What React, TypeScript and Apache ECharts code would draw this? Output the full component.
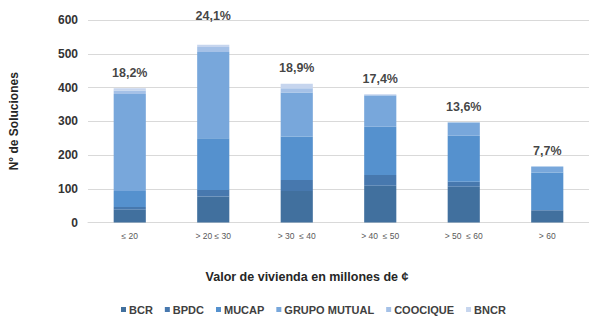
import React, { useEffect, useRef } from "react";
import * as echarts from "echarts";

const categories = ["≤ 20", "> 20 ≤ 30", "> 30  ≤ 40", "> 40  ≤ 50", "> 50  ≤ 60", "> 60"];
const seriesNames = ["BCR", "BPDC", "MUCAP", "GRUPO MUTUAL", "COOCIQUE", "BNCR"];
const bcr = [38, 77, 93, 109, 106, 35];
const bpdc = [8, 19, 33, 32, 15, 2];
const mucap = [47, 154, 129, 143, 136, 111];
const grupoMutual = [288, 255, 130, 92, 39, 18];
const coocique = [10, 15, 13, 2, 1, 0];
const bncr = [7, 7, 13, 2, 0, 0];
const percentLabels = ["18,2%", "24,1%", "18,9%", "17,4%", "13,6%", "7,7%"];
const yTicks = [0, 100, 200, 300, 400, 500, 600];
const colors = ["#41709E", "#4778AE", "#5591CE", "#78A7DB", "#A5C1E7", "#C6D5EE"];

export default function App() {
  const ref = useRef<HTMLDivElement>(null);
  useEffect(() => {
    if (!ref.current) return;
    const chart = echarts.init(ref.current, undefined, { renderer: "svg" });
    const values = [bcr, bpdc, mucap, grupoMutual, coocique, bncr];
    const totals = categories.map((_, i) => values.reduce((s, arr) => s + arr[i], 0));
    const font = "Liberation Sans, Arial, sans-serif";
    chart.setOption({
      animation: false,
      textStyle: { fontFamily: font },
      grid: { left: 80, top: 20, height: 202.5, width: 516 },
      xAxis: {
        type: "category",
        data: categories,
        axisLine: { show: true, lineStyle: { color: "#D9D9D9" } },
        axisTick: { show: false },
        axisLabel: { fontSize: 8.5, color: "#595959", margin: 9, fontFamily: font },
      },
      yAxis: {
        type: "value",
        min: yTicks[0],
        max: yTicks[yTicks.length - 1],
        interval: 100,
        name: "N° de Soluciones",
        nameLocation: "middle",
        nameGap: 62,
        nameTextStyle: { fontSize: 12, fontWeight: "bold", color: "#262626", fontFamily: font, padding: [0, 0, 6, 0] },
        axisLine: { show: false },
        axisTick: { show: false },
        splitLine: { lineStyle: { color: "#D9D9D9" } },
        axisLabel: { fontSize: 12, fontWeight: "bold", color: "#333333", margin: 10, fontFamily: font },
      },
      legend: {
        data: seriesNames,
        left: 116,
        top: 299,
        itemWidth: 5,
        itemHeight: 5,
        itemGap: 12,
        icon: "rect",
        textStyle: { fontSize: 11, fontWeight: "bold", color: "#404040", padding: [0, 0, 0, -2], fontFamily: font },
      },
      graphic: [
        {
          type: "text",
          x: 307,
          y: 277,
          style: {
            text: "Valor de vivienda en millones de ¢",
            fontSize: 12.5,
            fontWeight: "bold",
            fill: "#262626",
            align: "center",
            verticalAlign: "middle",
            fontFamily: font,
          },
        },
      ],
      series: [
        ...seriesNames.map((name, k) => ({
          name,
          type: "bar",
          stack: "total",
          barWidth: "38.5%",
          itemStyle: { color: colors[k] },
          data: values[k],
        })),
        {
          name: "pct",
          type: "scatter",
          symbolSize: 0,
          silent: true,
          data: totals.map((t, i) => ({
            value: t,
            label: i === 1 ? { offset: [0, -13] } : undefined,
          })),
          label: {
            show: true,
            position: "top",
            distance: 9,
            fontSize: 12.5,
            fontWeight: "bold",
            color: "#111111",
            fontFamily: font,
            formatter: (p: any) => percentLabels[p.dataIndex],
          },
        },
      ],
    });
    return () => chart.dispose();
  }, []);
  return (
    <div
      ref={ref}
      style={{ position: "fixed", left: 0, top: 0, width: 589, height: 326, background: "#fff" }}
    />
  );
}
